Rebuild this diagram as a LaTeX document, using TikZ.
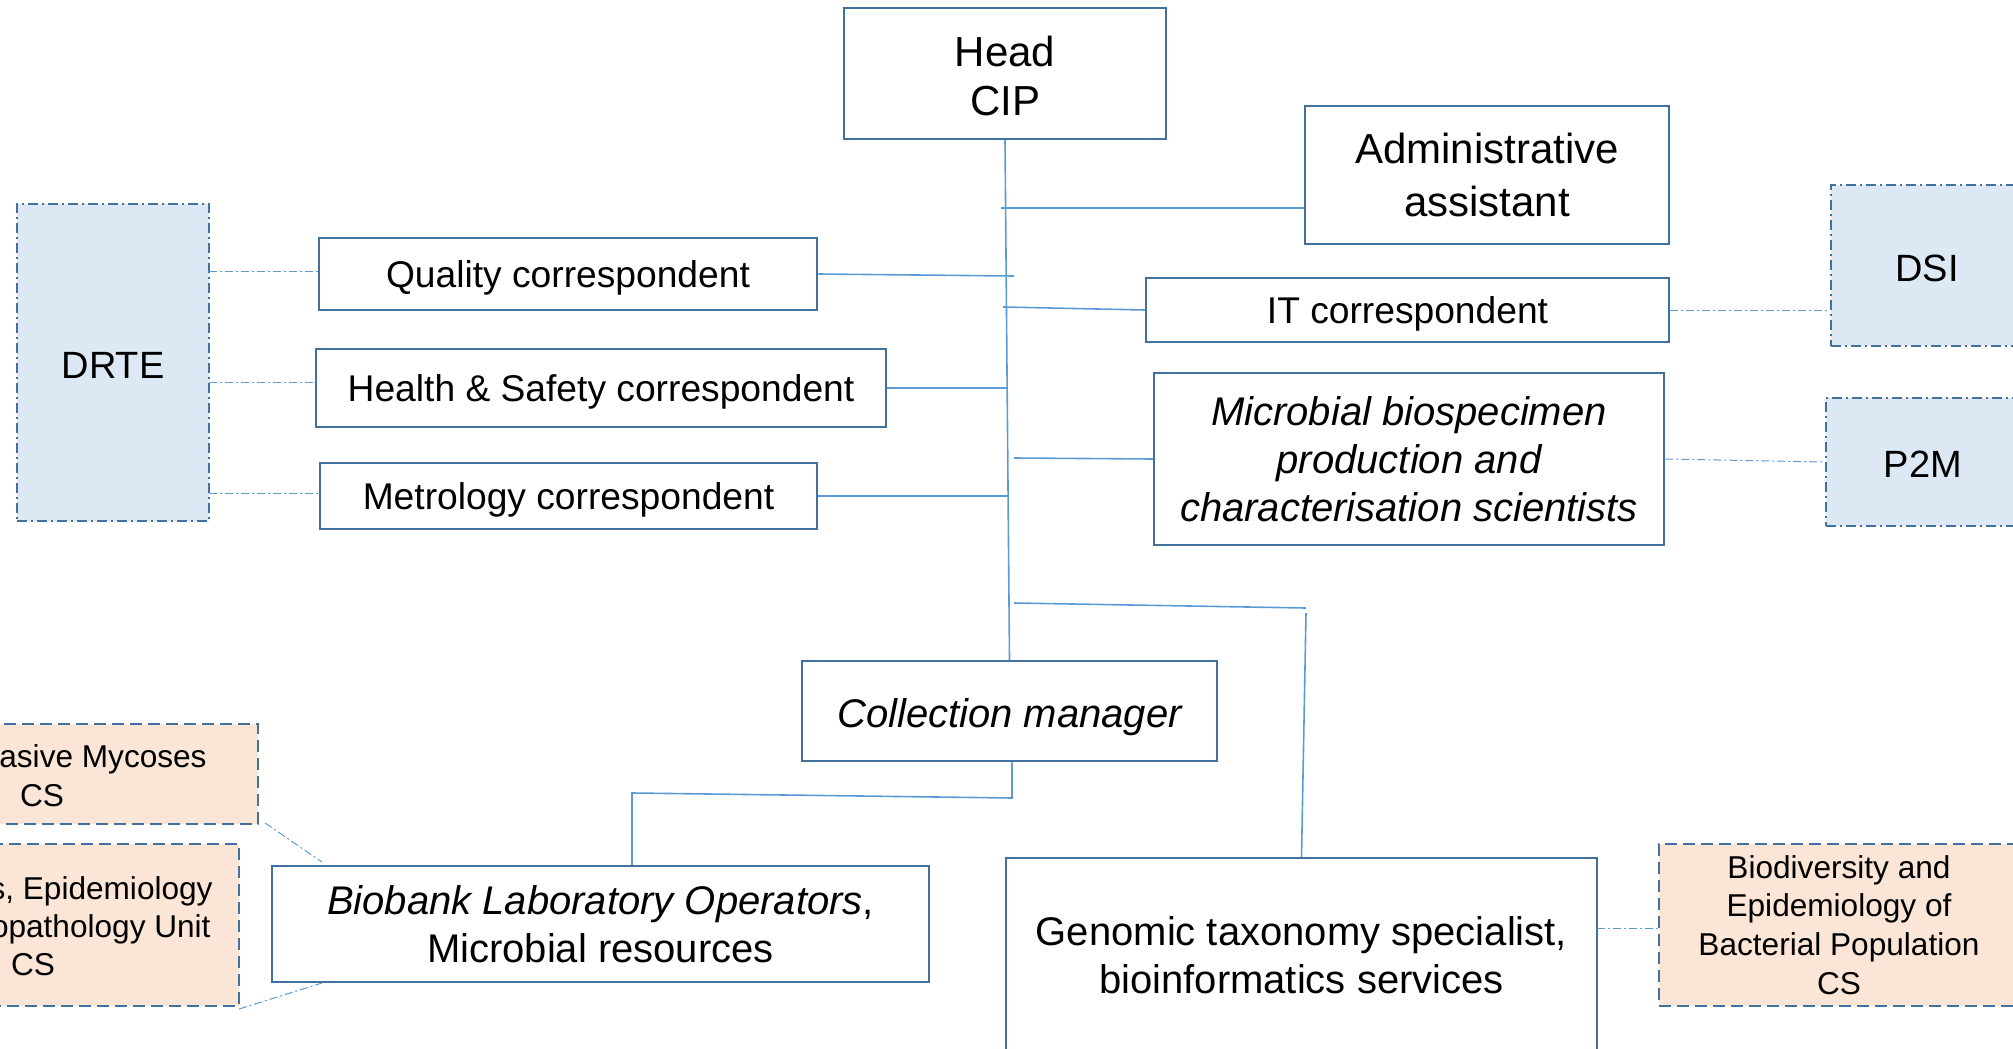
\documentclass[tikz,border=0pt]{standalone}
\usepackage{fontspec}
\setmainfont{Liberation Sans}
\definecolor{boxline}{RGB}{65,113,156}
\definecolor{connline}{RGB}{91,155,213}
\definecolor{bluefill}{RGB}{221,232,245}
\definecolor{peachfill}{RGB}{251,229,214}
\begin{document}
\begin{tikzpicture}[x=0.5pt,y=-0.5pt,
  box/.style={draw=boxline, line width=1.25pt, fill=white, align=center, inner sep=0pt, text=black},
  bluebox/.style={box, fill=bluefill, dash pattern=on 5pt off 2pt on 1pt off 2pt},
  peachbox/.style={box, fill=peachfill, dash pattern=on 6pt off 3pt},
  conn/.style={draw=connline, line width=0.8pt},
  dconn/.style={draw=connline, line width=0.5pt, dash pattern=on 4pt off 1.5pt on 1pt off 1.5pt},
  fHead/.style={font=\fontsize{21}{24.5}\selectfont},
  fCorr/.style={font=\fontsize{18.6}{22}\selectfont, text depth=0pt},
  fBig/.style={font=\fontsize{19}{22}\selectfont, text height=16.2pt, text depth=0pt},
  fSmall/.style={font=\fontsize{15.8}{19.4}\selectfont},
  ptext/.style={fSmall, inner sep=0pt, text=black}
]
\useasboundingbox (0,0) rectangle (2013,1049);

% boxes
\node[box, minimum width=161pt, minimum height=65.5pt] (head) at (1005,73.5) {};
\node[fHead, align=center, inner sep=0pt] (headT) at ([yshift=-1.4pt]head.center) {Head\\CIP};
\node[box, font=\fontsize{21}{26.3}\selectfont, minimum width=182pt, minimum height=69pt] (admin) at (1487,175) {Administrative\\assistant};
\node[box, fCorr, minimum width=249pt, minimum height=36pt] (quality) at (568,274) {Quality correspondent};
\node[box, fCorr, minimum width=261.5pt, minimum height=32pt] (it) at (1407.5,310) {IT correspondent};
\node[box, fCorr, minimum width=285pt, minimum height=39pt] (health) at (601,388) {Health \& Safety correspondent};
\node[box, fCorr, minimum width=248.5pt, minimum height=33pt] (metro) at (568.5,496) {Metrology correspondent};
\node[box, font=\fontsize{20}{24}\selectfont\itshape, minimum width=255pt, minimum height=86pt] (micro) at (1409,459) {Microbial biospecimen\\production and\\characterisation scientists};

\node[bluebox, fBig, minimum width=96pt, minimum height=158.5pt] (drte) at (113,362.5) {DRTE};
\node[bluebox, fBig, minimum width=96pt, minimum height=80.5pt] (dsi) at (1927,265.5) {DSI};
\node[bluebox, fBig, text height=15pt, minimum width=97pt, minimum height=64pt] (p2m) at (1923,462) {P2M};

\node[box, font=\fontsize{20}{24}\selectfont\itshape, text height=16pt, text depth=0pt, minimum width=207.5pt, minimum height=50pt] (coll) at (1009.5,711) {Collection manager};
\node[box, font=\fontsize{20}{24}\selectfont, minimum width=328.5pt, minimum height=58pt] (biobank) at (600.5,924) {\textit{Biobank Laboratory Operators},\\Microbial resources};
\node[box, font=\fontsize{20}{24.3}\selectfont, minimum width=295.5pt, minimum height=97pt] (genomic) at (1301.5,955) {Genomic taxonomy specialist,\\bioinformatics services};

\node[peachbox, minimum width=216pt, minimum height=50pt] (myco) at (42,774) {};
\node[peachbox, minimum width=206pt, minimum height=81pt] (epid) at (33,925) {};
\node[peachbox, fSmall, minimum width=180pt, minimum height=81pt] (biodiv) at (1839,925) {Biodiversity and\\Epidemiology of\\Bacterial Population\\CS};

% partly visible texts
\node[ptext, anchor=base east] (mycoA) at (207,767) {asive Mycoses};
\node[ptext, anchor=base] (mycoB) at (42,806) {CS};
\node[ptext, anchor=base east] (epidA) at (213,899) {s, Epidemiology};
\node[ptext, anchor=base east] (epidB) at (211,937) {opathology Unit};
\node[ptext, anchor=base] (epidC) at (33,975) {CS};

% solid connectors
\coordinate (tA) at (1001,208);
\coordinate (tQ) at (1014,276);
\coordinate (tI) at (1003,307);
\coordinate (tH) at (1008,388);
\coordinate (tM) at (1008,496);
\coordinate (tMi) at (1014,458);
\coordinate (tG1) at (1014,603);
\coordinate (tG2) at (1306,608);
\coordinate (tG3) at (1306,613);
\coordinate (cB2) at (1012,798);
\coordinate (cB3) at (632,793);

\draw[conn] (head.south) -- (coll.north);
\draw[conn] (tA) -- (admin.west |- tA);
\draw[conn] (quality.east) -- (tQ);
\draw[conn] (tI) -- (it.west);
\draw[conn] (health.east) -- (tH);
\draw[conn] (metro.east) -- (tM);
\draw[conn] (tMi) -- (micro.west);
\draw[conn] (tG1) -- (tG2);
\draw[conn] (tG3) -- (genomic.north);
\draw[conn] (coll.south -| cB2) -- (cB2) -- (cB3) -- (cB3 |- biobank.north);

% dash-dot connectors
\coordinate (dQ) at (209,271);
\coordinate (dH) at (209,382);
\coordinate (dM) at (209,493);
\coordinate (dG) at (1597,928);
\coordinate (m1) at (265,823);
\coordinate (m2) at (322,862);
\coordinate (e1) at (239,1009);
\coordinate (e2) at (322,983);
\draw[dconn] (dQ) -- (dQ -| quality.west);
\draw[dconn] (dH) -- (dH -| health.west);
\draw[dconn] (dM) -- (dM -| metro.west);
\draw[dconn] (it.east) -- (dsi.west |- it.east);
\draw[dconn] (micro.east) -- (p2m.west);
\draw[dconn] (dG) -- (dG -| biodiv.west);
\draw[dconn] (m1) -- (m2);
\draw[dconn] (e1) -- (e2);
\end{tikzpicture}
\end{document}
